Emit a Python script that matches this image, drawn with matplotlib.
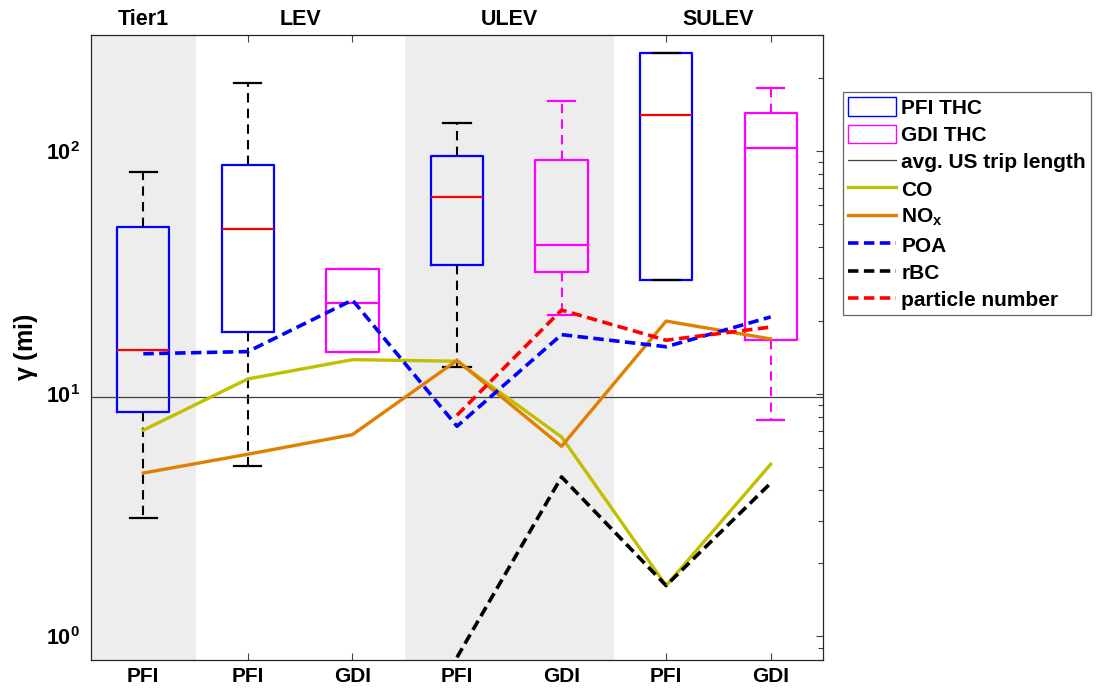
import matplotlib
matplotlib.use('Agg')
import matplotlib.pyplot as plt
from matplotlib.patches import Patch
from matplotlib.lines import Line2D
from matplotlib.ticker import FixedLocator, FixedFormatter, LogLocator, NullFormatter
import numpy as np

plt.rcParams['font.family'] = ['Liberation Sans', 'DejaVu Sans']
plt.rcParams['font.weight'] = 'bold'
plt.rcParams['mathtext.fontset'] = 'custom'
plt.rcParams['mathtext.bf'] = 'Liberation Sans:bold'
plt.rcParams['mathtext.rm'] = 'Liberation Sans'
plt.rcParams['mathtext.it'] = 'Liberation Sans:italic'
plt.rcParams['mathtext.default'] = 'bf'

# vehicle classes along x
categories = ['PFI', 'PFI', 'GDI', 'PFI', 'GDI', 'PFI', 'GDI']
tiers = ['Tier1', 'LEV', 'ULEV', 'SULEV']
tier_centres = [1, 2.5, 4.5, 6.5]
shaded = [(0.5, 1.5), (3.5, 5.5)]

# THC boxes (PFI)
pfi_pos = [1, 2, 4, 6]
pfi_lo = [3.07, 5.03, 12.9, 29.5]
pfi_q1 = [8.4, 17.9, 33.8, 29.5]
pfi_med = [15.1, 47.7, 64.5, 141]
pfi_q3 = [48.5, 87.4, 95.5, 253]
pfi_hi = [81.8, 191, 130, 253]

# THC boxes (GDI)
gdi_pos = [3, 5, 7]
gdi_lo = [14.8, 21.1, 7.77]
gdi_q1 = [14.8, 31.6, 16.7]
gdi_med = [23.7, 40.9, 103]
gdi_q3 = [32.6, 91.4, 143]
gdi_hi = [32.6, 160, 181]

trip_length = 9.7

x = np.arange(1, 8)
co = [7.07, 11.5, 13.8, 13.6, 6.63, 1.62, 5.12]
nox = [4.71, 5.63, 6.78, 13.7, 6.07, 19.9, 16.8]
poa = [14.6, 14.9, 24.3, 7.34, 17.5, 15.6, 20.7]
rbc = [np.nan, np.nan, np.nan, 0.82, 4.54, 1.62, 4.28]
pn = [np.nan, np.nan, np.nan, 8.15, 22.1, 16.6, 18.8]

fig = plt.figure(figsize=(10.98, 6.90), dpi=100)
ax = fig.add_axes([0.0829, 0.0435, 0.6666, 0.9058])
ax.set_yscale('log')
ax.set_axisbelow(True)

for a, b in shaded:
    ax.axvspan(a, b, color='#EDEDED', lw=0, zorder=1)


def stats(lo, q1, med, q3, hi):
    return [dict(whislo=l, q1=a, med=m, q3=b, whishi=h, fliers=[])
            for l, a, m, b, h in zip(lo, q1, med, q3, hi)]


ax.bxp(stats(pfi_lo, pfi_q1, pfi_med, pfi_q3, pfi_hi), positions=pfi_pos,
       widths=0.5, showfliers=False, manage_ticks=False,
       boxprops=dict(color='#0000FF', lw=1.6),
       medianprops=dict(color='#FF0000', lw=1.6),
       whiskerprops=dict(color='black', lw=1.5, linestyle=(0, (4.5, 3))),
       capprops=dict(color='black', lw=1.6), capwidths=0.26, zorder=3)
ax.bxp(stats(gdi_lo, gdi_q1, gdi_med, gdi_q3, gdi_hi), positions=gdi_pos,
       widths=0.5, showfliers=False, manage_ticks=False,
       boxprops=dict(color='#FF00FF', lw=1.6),
       medianprops=dict(color='#FF00FF', lw=1.6),
       whiskerprops=dict(color='#FF00FF', lw=1.5, linestyle=(0, (4.5, 3))),
       capprops=dict(color='#FF00FF', lw=1.6), capwidths=0.26, zorder=3)

ax.axhline(trip_length, color='#404040', lw=0.9, zorder=3)
ax.plot(x, co, color='#C0C000', lw=2.4, zorder=4)
ax.plot(x, nox, color='#E08000', lw=2.4, zorder=4)
ax.plot(x, poa, color='#0000FF', lw=2.6, dashes=(2.9, 1.5), zorder=5)
ax.plot(x, rbc, color='black', lw=2.6, dashes=(2.9, 1.5), zorder=5)
ax.plot(x, pn, color='#FF0000', lw=2.6, dashes=(2.9, 1.5), zorder=5)

ax.set_xlim(0.5, 7.5)
ax.set_ylim(0.8, 300)
ax.set_xticks(x)
ax.set_xticklabels(categories, fontsize=15, fontweight='bold')
ax.tick_params(axis='x', direction='in', length=5, width=0.8, color='#404040',
               top=True, pad=5)

ax.yaxis.set_major_locator(FixedLocator([1, 10, 100]))
ax.yaxis.set_major_formatter(FixedFormatter([r'$\mathbf{10^{0}}$', r'$\mathbf{10^{1}}$',
                                             r'$\mathbf{10^{2}}$']))
ax.yaxis.set_minor_locator(LogLocator(base=10, subs=np.arange(2, 10)))
ax.yaxis.set_minor_formatter(NullFormatter())
ax.tick_params(axis='y', which='both', direction='in', left=False, right=True,
               labelleft=True, color='#404040', width=0.8, labelsize=15.5, pad=8)
ax.tick_params(axis='y', which='major', length=5)
ax.tick_params(axis='y', which='minor', length=3.5)
ax.set_ylabel(r'$\gamma$ (mi)', fontsize=18, fontweight='bold', labelpad=4)

for s in ax.spines.values():
    s.set_color('#262626')
    s.set_linewidth(0.9)

for t, c in zip(tiers, tier_centres):
    ax.text(c, 1.008, t, transform=ax.get_xaxis_transform(), ha='center',
            va='bottom', fontsize=15.5, fontweight='bold')

handles = [
    Patch(facecolor='none', edgecolor='#0000FF', lw=1),
    Patch(facecolor='none', edgecolor='#FF00FF', lw=1),
    Line2D([], [], color='#404040', lw=0.9),
    Line2D([], [], color='#C0C000', lw=2.4),
    Line2D([], [], color='#E08000', lw=2.4),
    Line2D([], [], color='#0000FF', lw=2.6, dashes=(2.9, 1.5)),
    Line2D([], [], color='black', lw=2.6, dashes=(2.9, 1.5)),
    Line2D([], [], color='#FF0000', lw=2.6, dashes=(2.9, 1.5)),
]
labels = ['PFI THC', 'GDI THC', 'avg. US trip length', 'CO', r'NO$_x$',
          'POA', 'rBC', 'particle number']
leg = fig.legend(handles, labels, loc='upper left', bbox_to_anchor=(0.7678, 0.8667),
                 prop=dict(size=15, weight='bold'), frameon=True, fancybox=False,
                 handlelength=2.3, handleheight=1.0, handletextpad=0.25,
                 labelspacing=0.33, borderpad=0.25, borderaxespad=0)
leg.get_frame().set_edgecolor('#404040')
leg.get_frame().set_linewidth(0.9)

fig.savefig('out.png', dpi=100)
